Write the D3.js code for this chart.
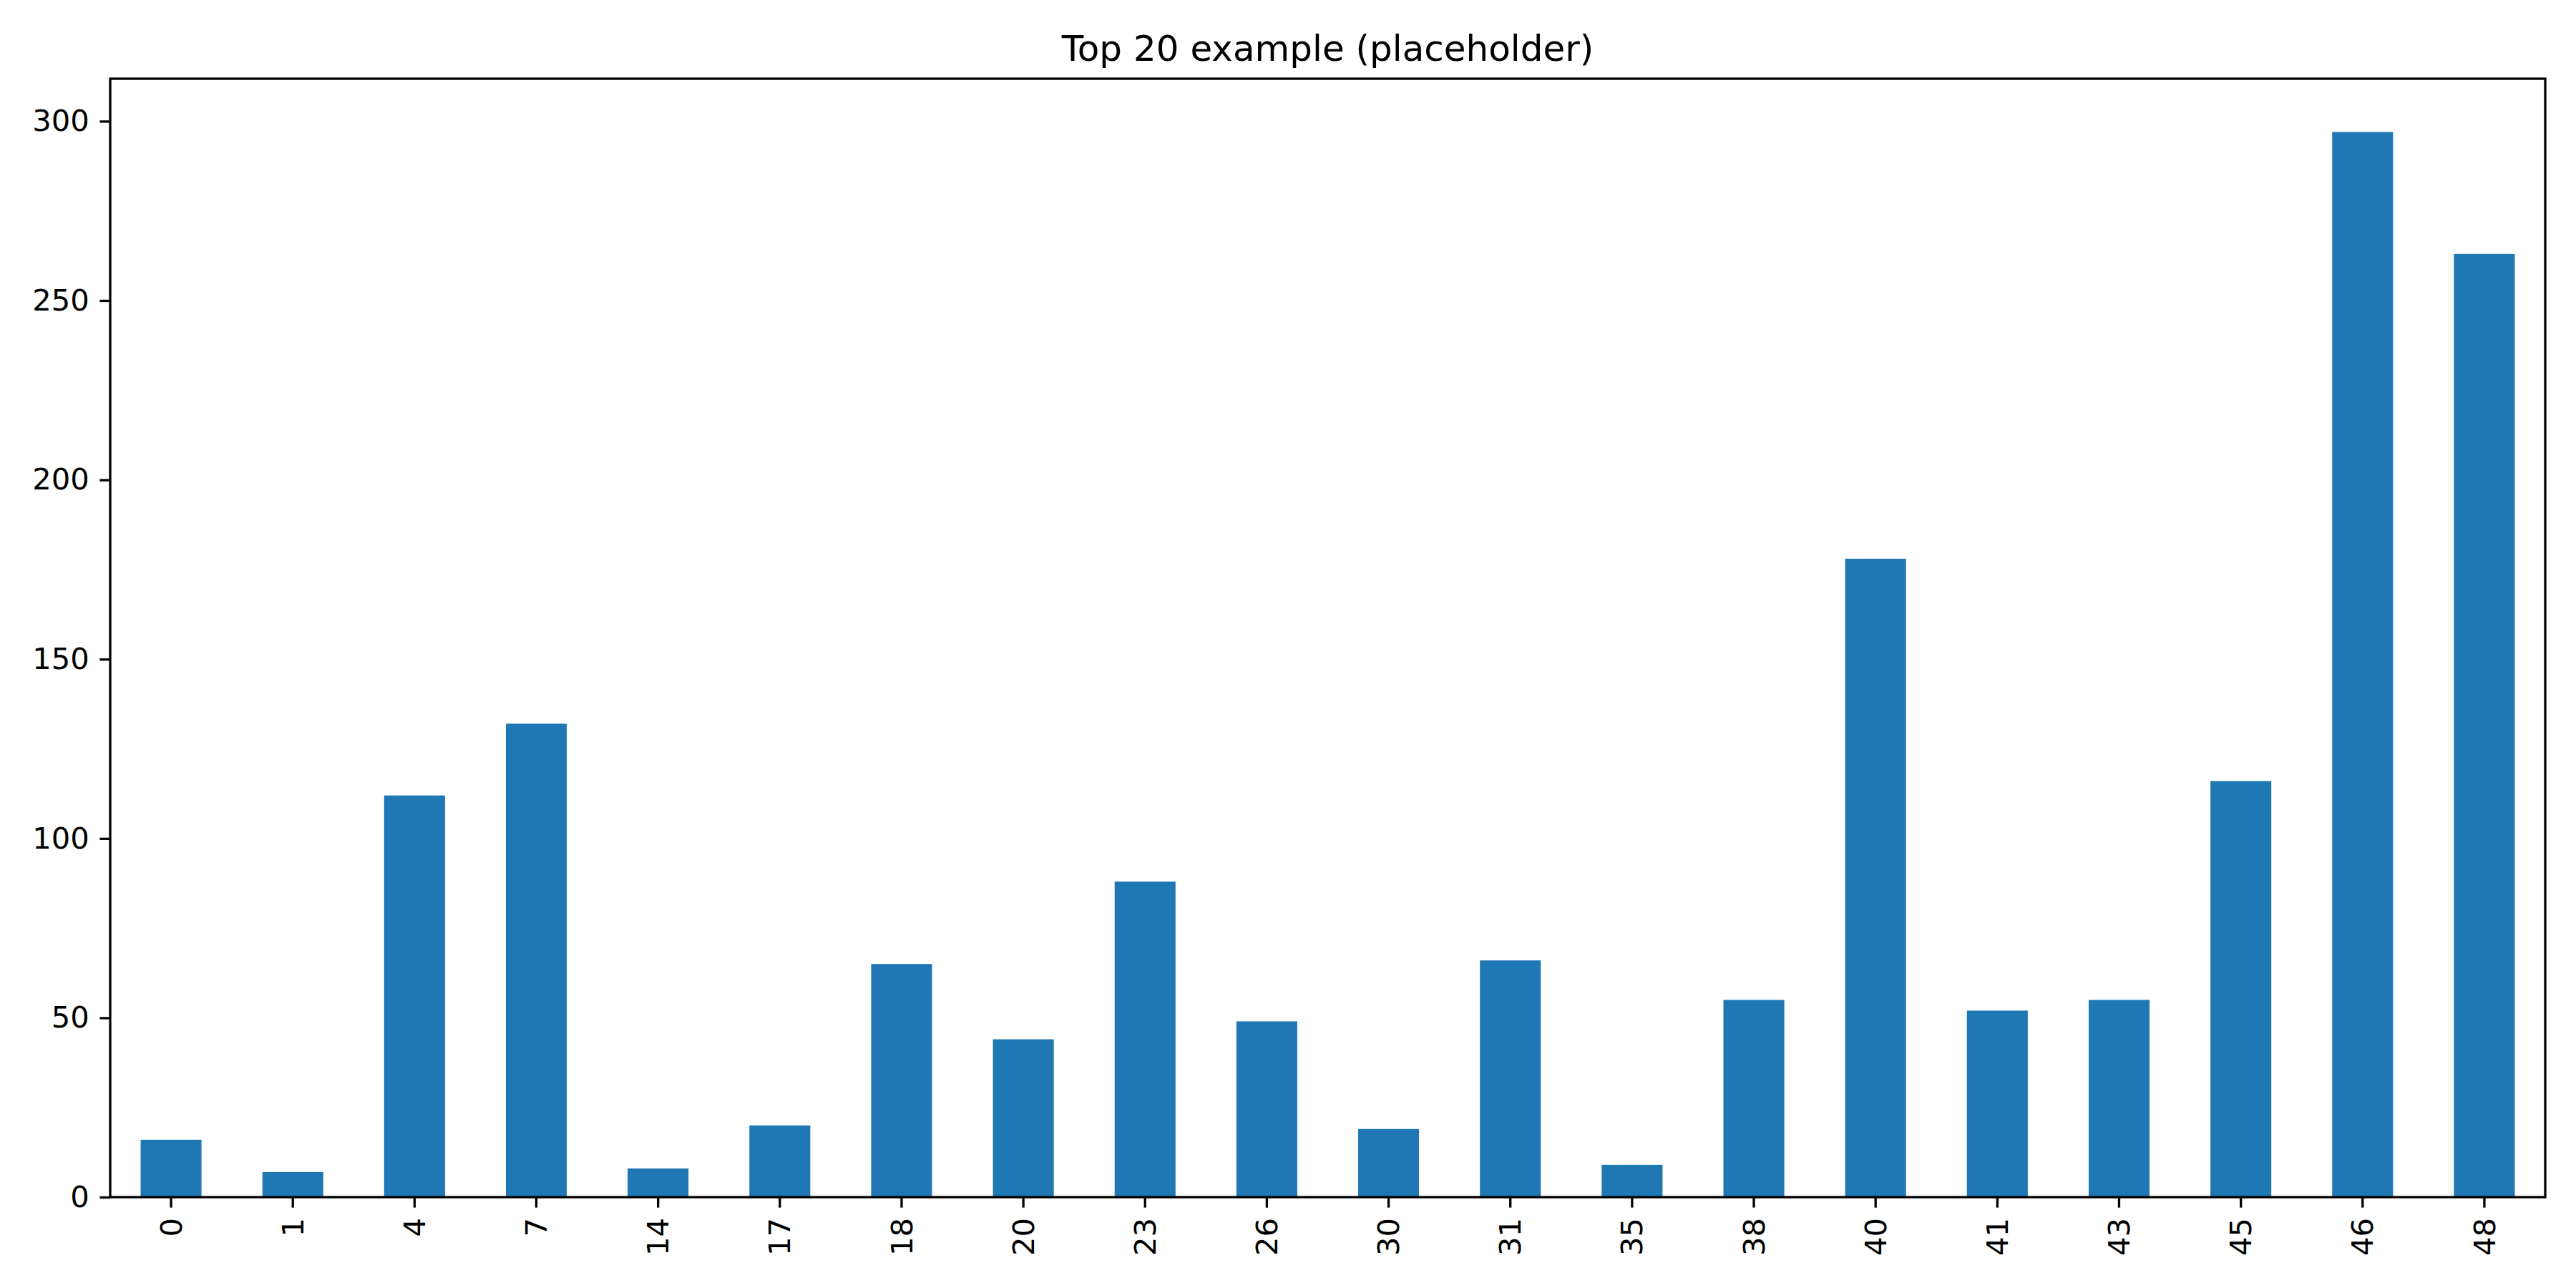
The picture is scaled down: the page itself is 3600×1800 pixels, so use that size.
<!DOCTYPE html>
<html>
<head>
<meta charset="utf-8">
<script src="https://cdn.jsdelivr.net/npm/d3@7"></script>
<style>
  body { margin: 0; background: #fff; }
  text { font-family: "DejaVu Sans", sans-serif; fill: #000; }
</style>
</head>
<body>
<svg width="3600" height="1800"></svg>
<script>
const categories = ['0', '1', '4', '7', '14', '17', '18', '20', '23', '26', '30', '31', '35', '38', '40', '41', '43', '45', '46', '48'];
const counts = [16, 7, 112, 132, 8, 20, 65, 44, 88, 49, 19, 66, 9, 55, 178, 52, 55, 116, 297, 263];
const yTicks = [0, 50, 100, 150, 200, 250, 300];

const svg = d3.select('svg');
const m = { left: 154, right: 3557, top: 110, bottom: 1673 };

const x = d3.scaleBand()
  .domain(categories)
  .range([m.left, m.right])
  .paddingInner(0.5)
  .paddingOuter(0.25);

const y = d3.scaleLinear()
  .domain([0, d3.max(counts) * 1.05])
  .range([m.bottom, m.top]);

// bars
svg.append('g')
  .selectAll('rect')
  .data(counts)
  .enter()
  .append('rect')
  .attr('x', (d, i) => x(categories[i]))
  .attr('y', d => y(d))
  .attr('width', x.bandwidth())
  .attr('height', d => y(0) - y(d))
  .attr('fill', '#1f77b4');

// axes
const xAxis = svg.append('g')
  .attr('transform', `translate(0,${m.bottom})`)
  .call(d3.axisBottom(x).tickSize(14.6).tickPadding(14.6));
xAxis.selectAll('text')
  .attr('transform', 'rotate(-90)')
  .attr('text-anchor', 'end')
  .attr('x', -29)
  .attr('y', 0)
  .attr('dy', '0.35em');

const yAxis = svg.append('g')
  .attr('transform', `translate(${m.left},0)`)
  .call(d3.axisLeft(y).tickValues(yTicks).tickSize(14.6).tickPadding(14.6));

svg.selectAll('.tick line').attr('stroke-width', 3.3);
svg.selectAll('.tick text').style('font-size', '41.7px');
svg.selectAll('.domain').remove();

// frame
svg.append('rect')
  .attr('x', m.left)
  .attr('y', m.top)
  .attr('width', m.right - m.left)
  .attr('height', m.bottom - m.top)
  .attr('fill', 'none')
  .attr('stroke', '#000')
  .attr('stroke-width', 3.3);

// title
svg.append('text')
  .attr('x', (m.left + m.right) / 2)
  .attr('y', m.top - 25)
  .attr('text-anchor', 'middle')
  .style('font-size', '50px')
  .text('Top 20 example (placeholder)');
</script>
</body>
</html>
